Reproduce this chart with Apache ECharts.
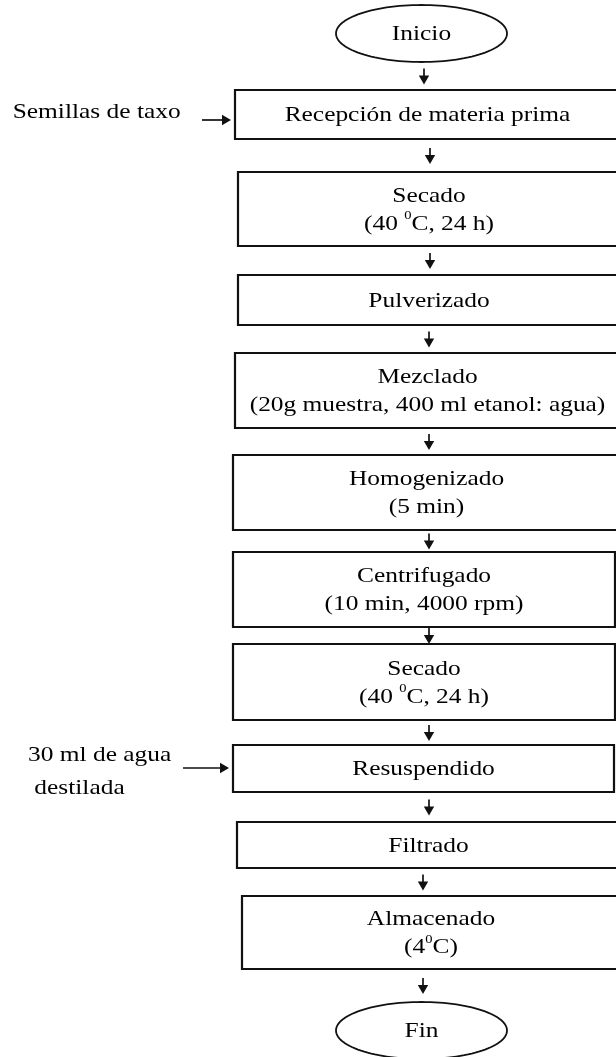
<!DOCTYPE html>
<html>
<head>
<meta charset="utf-8">
<script src="https://cdn.jsdelivr.net/npm/echarts@6/dist/echarts.min.js"></script>
<style>
html,body{margin:0;padding:0;background:#ffffff;}
#chart{width:616px;height:1057px;}
</style>
</head>
<body>
<div id="chart"></div>
<script>
// ---------- content ----------
const stepNames = ['Inicio', 'Recepción de materia prima', 'Secado', 'Pulverizado', 'Mezclado',
  'Homogenizado', 'Centrifugado', 'Secado', 'Resuspendido', 'Filtrado', 'Almacenado', 'Fin'];
const stepDetails = ['', '', '(40 ⁰C, 24 h)', '', '(20g muestra, 400 ml etanol: agua)',
  '(5 min)', '(10 min, 4000 rpm)', '(40 ⁰C, 24 h)', '', '', '(4⁰C)', ''];
const stepShapes = ['ellipse', 'box', 'box', 'box', 'box', 'box', 'box', 'box', 'box', 'box', 'box', 'ellipse'];
const sideInputs = ['Semillas de taxo', '30 ml de agua\n destilada'];
const sideTargets = [1, 8];

// ---------- layout (axis units: one unit per canvas pixel) ----------
const nodeLeft   = [336, 235, 238, 238, 235, 233, 233, 233, 233, 237, 242, 336];
const nodeRight  = [507, 620, 620, 620, 620, 620, 615, 615, 614, 620, 620, 507];
const nodeTop    = [5,   90,  172, 275, 353, 455, 552, 644, 745, 822, 896, 1002];
const nodeBottom = [62,  139, 246, 325, 428, 530, 627, 720, 792, 868, 969, 1059];
const arrowX     = [424, 430, 430, 429, 429, 429, 429, 429, 429, 423, 423];
const sideLabelX = [12.7, 28];
const sideLabelY = [112, 772];
const sideArrowX0 = [202, 183];
const sideArrowY = [120, 768];

const FONT = '"Liberation Serif", "Times New Roman", Times, serif';
const INK = '#000000';
const SX = 1.21; // horizontal stretch of the original lettering

// ---------- data for the series ----------
const nodeData = stepNames.map((n, i) => [i, nodeLeft[i], nodeTop[i], nodeRight[i], nodeBottom[i]]);
const arrowData = [];
for (let i = 0; i < stepNames.length - 1; i++) {
  const a = nodeBottom[i], b = nodeTop[i + 1];
  const mid = (a + b) / 2;
  arrowData.push([arrowX[i], mid - 7.5, arrowX[i], mid + 8.5]);
}
sideTargets.forEach((t, k) => {
  arrowData.push([sideArrowX0[k], sideArrowY[k], nodeLeft[t] - 4, sideArrowY[k]]);
});
const labelData = sideInputs.map((s, k) => [k, sideLabelX[k], sideLabelY[k]]);

function richify(t) { return t.replace(/⁰/g, '{sup|0}'); }

function renderNode(params, api) {
  const i = api.value(0);
  const p0 = api.coord([api.value(1), api.value(2)]);
  const p1 = api.coord([api.value(3), api.value(4)]);
  const x0 = Math.min(p0[0], p1[0]), x1 = Math.max(p0[0], p1[0]);
  const y0 = Math.min(p0[1], p1[1]), y1 = Math.max(p0[1], p1[1]);
  const cx = (x0 + x1) / 2, cy = (y0 + y1) / 2;
  const children = [];
  if (stepShapes[i] === 'ellipse') {
    const pts = [];
    const rx = (x1 - x0) / 2, ry = (y1 - y0) / 2;
    for (let k = 0; k < 120; k++) {
      const t = k / 120 * Math.PI * 2;
      pts.push([cx + rx * Math.cos(t), cy + ry * Math.sin(t)]);
    }
    children.push({ type: 'polygon', shape: { points: pts },
      style: { fill: '#ffffff', stroke: '#111111', lineWidth: 1.8 } });
  } else {
    children.push({ type: 'rect', shape: { x: x0, y: y0, width: x1 - x0, height: y1 - y0 },
      style: { fill: '#ffffff', stroke: '#111111', lineWidth: 2.2 } });
  }
  let txt = stepNames[i];
  if (stepDetails[i]) txt += '\n' + stepDetails[i];
  children.push({
    type: 'text', x: cx, y: cy + 1, scaleX: SX,
    style: {
      text: richify(txt), align: 'center', verticalAlign: 'middle',
      fontFamily: FONT, fontSize: 21, lineHeight: 28, fill: INK,
      rich: { sup: { fontFamily: FONT, fontSize: 12, lineHeight: 21, verticalAlign: 'top', fill: INK } }
    }
  });
  return { type: 'group', children: children };
}

function renderArrow(params, api) {
  const a = api.coord([api.value(0), api.value(1)]);
  const b = api.coord([api.value(2), api.value(3)]);
  const dx = b[0] - a[0], dy = b[1] - a[1];
  const len = Math.sqrt(dx * dx + dy * dy) || 1;
  const ux = dx / len, uy = dy / len;
  const hl = 9, hw = 5.2;
  const base = [b[0] - ux * hl, b[1] - uy * hl];
  return {
    type: 'group',
    children: [
      { type: 'line', shape: { x1: a[0], y1: a[1], x2: base[0] + ux, y2: base[1] + uy },
        style: { stroke: '#111111', lineWidth: 1.7 } },
      { type: 'polygon', shape: { points: [
          [b[0], b[1]],
          [base[0] - uy * hw, base[1] + ux * hw],
          [base[0] + uy * hw, base[1] - ux * hw]
        ] }, style: { fill: '#111111' } }
    ]
  };
}

function renderLabel(params, api) {
  const k = api.value(0);
  const p = api.coord([api.value(1), api.value(2)]);
  return {
    type: 'text', x: p[0], y: p[1], scaleX: SX,
    style: { text: sideInputs[k], align: 'left', verticalAlign: 'middle',
      fontFamily: FONT, fontSize: 21, lineHeight: 33, fill: INK }
  };
}

const chart = echarts.init(document.getElementById('chart'), null, { renderer: 'canvas' });
chart.setOption({
  backgroundColor: '#ffffff',
  animation: false,
  grid: { left: 0, right: 0, top: 0, bottom: 0 },
  xAxis: { type: 'value', min: 0, max: 616, show: false },
  yAxis: { type: 'value', min: 0, max: 1057, inverse: true, show: false },
  series: [
    { type: 'custom', renderItem: renderArrow, data: arrowData, clip: false, silent: true, z: 1 },
    { type: 'custom', renderItem: renderNode, data: nodeData, clip: true, silent: true, z: 2 },
    { type: 'custom', renderItem: renderLabel, data: labelData, clip: false, silent: true, z: 3 }
  ]
});
</script>
</body>
</html>
